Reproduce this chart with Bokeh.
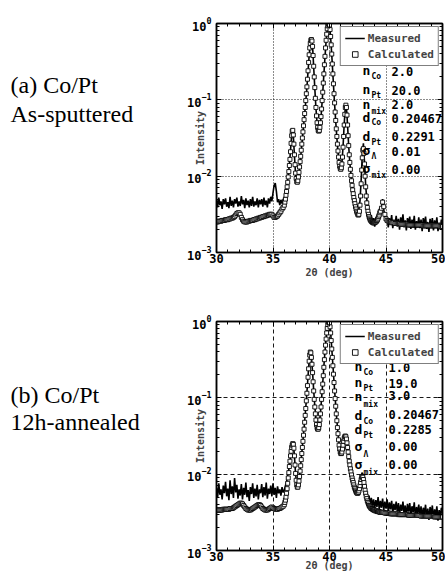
import numpy as np
from bokeh.plotting import figure
from bokeh.layouts import column, row
from bokeh.models import (Range1d, LogAxis, LinearAxis, Label, Legend, LegendItem,
                          LogTicker, SingleIntervalTicker, CustomJSTickFormatter)
from bokeh.embed import file_html
from bokeh.resources import INLINE

# ---------------- data (log10 of intensity) ----------------
# 2-theta sampling grids (deg)
x_calc_lo = [round(30.0 + 0.1 * i, 2) for i in range(60)]     # 30.0 .. 35.9
x_calc_mid = [round(36.0 + 0.05 * i, 2) for i in range(171)]  # 36.00 .. 44.50
x_calc_hi = [round(44.6 + 0.1 * i, 2) for i in range(55)]     # 44.6 .. 50.0
x_meas = [round(30.0 + 0.1 * i, 2) for i in range(201)]       # 30.0 .. 50.0

# (a) As-sputtered, calculated
calc_a_lo = [-2.60, -2.60, -2.59, -2.59, -2.59, -2.58, -2.58, -2.58, -2.57, -2.57,
             -2.57, -2.56, -2.56, -2.55, -2.55, -2.54, -2.53, -2.51, -2.49, -2.48,
             -2.48, -2.50, -2.54, -2.57, -2.59, -2.60, -2.60, -2.60, -2.59, -2.59,
             -2.58, -2.58, -2.58, -2.57, -2.57, -2.56, -2.56, -2.55, -2.55, -2.54,
             -2.54, -2.53, -2.53, -2.52, -2.52, -2.51, -2.51, -2.50, -2.50, -2.50,
             -2.52, -2.54, -2.54, -2.53, -2.52, -2.50, -2.48, -2.46, -2.43, -2.41]
calc_a_mid = [-2.38, -2.34, -2.30, -2.25, -2.20, -2.14, -2.08, -2.01, -1.94, -1.86,
              -1.78, -1.68, -1.57, -1.47, -1.41, -1.40, -1.46, -1.58, -1.72, -1.85,
              -1.96, -2.03, -2.07, -2.08, -2.06, -2.01, -1.95, -1.88, -1.81, -1.74,
              -1.66, -1.58, -1.50, -1.42, -1.34, -1.26, -1.18, -1.10, -1.01, -0.92,
              -0.83, -0.73, -0.62, -0.51, -0.41, -0.32, -0.26, -0.22, -0.21, -0.23,
              -0.30, -0.42, -0.56, -0.70, -0.84, -0.98, -1.10, -1.21, -1.30, -1.36,
              -1.40, -1.41, -1.40, -1.36, -1.30, -1.22, -1.12, -1.01, -0.90, -0.78,
              -0.66, -0.54, -0.43, -0.32, -0.22, -0.14, -0.07, -0.03, -0.01, 0.00,
              -0.02, -0.08, -0.17, -0.28, -0.40, -0.53, -0.66, -0.79, -0.92, -1.04,
              -1.16, -1.27, -1.38, -1.48, -1.58, -1.67, -1.75, -1.82, -1.87, -1.90,
              -1.91, -1.89, -1.84, -1.75, -1.62, -1.48, -1.33, -1.19, -1.10, -1.07,
              -1.10, -1.20, -1.33, -1.47, -1.60, -1.72, -1.82, -1.91, -1.99, -2.06,
              -2.12, -2.18, -2.23, -2.28, -2.32, -2.36, -2.40, -2.43, -2.46, -2.48,
              -2.50, -2.51, -2.50, -2.46, -2.38, -2.26, -2.10, -1.92, -1.76, -1.66,
              -1.64, -1.70, -1.84, -2.00, -2.14, -2.26, -2.35, -2.41, -2.46, -2.50,
              -2.53, -2.55, -2.57, -2.58, -2.59, -2.60, -2.60, -2.61, -2.61, -2.61,
              -2.61, -2.60, -2.60, -2.59, -2.58, -2.57, -2.55, -2.53, -2.51, -2.48,
              -2.46]
calc_a_hi = [-2.42, -2.34, -2.40, -2.50, -2.56, -2.58, -2.59, -2.60, -2.60, -2.61,
             -2.61, -2.61, -2.62, -2.62, -2.62, -2.62, -2.62, -2.63, -2.63, -2.63,
             -2.63, -2.63, -2.63, -2.63, -2.64, -2.64, -2.64, -2.64, -2.64, -2.64,
             -2.64, -2.64, -2.64, -2.64, -2.64, -2.64, -2.64, -2.65, -2.65, -2.65,
             -2.65, -2.65, -2.65, -2.65, -2.65, -2.65, -2.65, -2.65, -2.65, -2.65,
             -2.65, -2.65, -2.66, -2.66, -2.66]
# (a) As-sputtered, measured
meas_a = [-2.31, -2.41, -2.28, -2.38, -2.33, -2.43, -2.30, -2.37, -2.29, -2.40,
          -2.34, -2.42, -2.27, -2.39, -2.32, -2.41, -2.30, -2.36, -2.28, -2.40,
          -2.33, -2.39, -2.26, -2.37, -2.31, -2.42, -2.29, -2.38, -2.32, -2.41,
          -2.30, -2.39, -2.27, -2.40, -2.33, -2.38, -2.29, -2.41, -2.31, -2.37,
          -2.30, -2.40, -2.28, -2.38, -2.32, -2.41, -2.29, -2.36, -2.27, -2.33,
          -2.22, -2.12, -2.09, -2.20, -2.34, -2.30, -2.38, -2.31, -2.36, -2.30,
          -2.30, -2.24, -2.15, -2.05, -1.92, -1.76, -1.56, -1.40, -1.47, -1.74,
          -1.98, -2.09, -2.08, -1.96, -1.82, -1.67, -1.51, -1.35, -1.19, -1.02,
          -0.84, -0.63, -0.42, -0.27, -0.20, -0.29, -0.57, -0.85, -1.11, -1.31,
          -1.41, -1.41, -1.31, -1.13, -0.91, -0.67, -0.44, -0.23, -0.08, -0.02,
          -0.01, -0.18, -0.41, -0.67, -0.93, -1.17, -1.39, -1.59, -1.76, -1.88,
          -1.92, -1.83, -1.61, -1.32, -1.09, -1.09, -1.34, -1.61, -1.83, -1.97,
          -2.10, -2.25, -2.28, -2.43, -2.40, -2.53, -2.44, -2.32, -2.06, -1.72,
          -1.57, -1.82, -2.12, -2.30, -2.45, -2.50, -2.58, -2.51, -2.64, -2.55,
          -2.66, -2.54, -2.62, -2.50, -2.58, -2.46, -2.42, -2.30, -2.44, -2.52,
          -2.60, -2.53, -2.67, -2.55, -2.63, -2.51, -2.68, -2.57, -2.64, -2.52,
          -2.66, -2.56, -2.70, -2.54, -2.62, -2.50, -2.67, -2.58, -2.71, -2.55,
          -2.63, -2.53, -2.69, -2.57, -2.65, -2.52, -2.70, -2.59, -2.66, -2.54,
          -2.68, -2.57, -2.72, -2.55, -2.64, -2.53, -2.69, -2.60, -2.73, -2.56,
          -2.66, -2.55, -2.71, -2.58, -2.67, -2.54, -2.72, -2.61, -2.68, -2.57,
          -2.65]

# (b) 12h-annealed, calculated
calc_b_lo = [-2.47, -2.47, -2.47, -2.47, -2.47, -2.47, -2.46, -2.46, -2.46, -2.46,
             -2.46, -2.46, -2.45, -2.45, -2.45, -2.44, -2.43, -2.42, -2.41, -2.40,
             -2.39, -2.38, -2.38, -2.39, -2.41, -2.43, -2.45, -2.46, -2.47, -2.47,
             -2.47, -2.46, -2.45, -2.44, -2.43, -2.42, -2.41, -2.40, -2.40, -2.41,
             -2.43, -2.45, -2.46, -2.47, -2.47, -2.47, -2.46, -2.45, -2.44, -2.43,
             -2.44, -2.45, -2.46, -2.46, -2.46, -2.45, -2.45, -2.44, -2.43, -2.42]
calc_b_mid = [-2.40, -2.37, -2.34, -2.30, -2.25, -2.19, -2.12, -2.05, -1.98, -1.90,
              -1.83, -1.76, -1.70, -1.65, -1.62, -1.60, -1.61, -1.66, -1.76, -1.88,
              -1.99, -2.08, -2.14, -2.17, -2.17, -2.14, -2.09, -2.03, -1.96, -1.89,
              -1.81, -1.73, -1.65, -1.57, -1.49, -1.41, -1.32, -1.23, -1.14, -1.04,
              -0.94, -0.84, -0.73, -0.62, -0.52, -0.44, -0.40, -0.41, -0.47, -0.56,
              -0.67, -0.79, -0.91, -1.02, -1.12, -1.21, -1.29, -1.35, -1.39, -1.41,
              -1.41, -1.39, -1.35, -1.29, -1.21, -1.12, -1.02, -0.92, -0.82, -0.71,
              -0.60, -0.50, -0.40, -0.31, -0.23, -0.15, -0.09, -0.04, -0.01, 0.00,
              -0.02, -0.07, -0.15, -0.25, -0.36, -0.47, -0.58, -0.69, -0.80, -0.91,
              -1.01, -1.11, -1.21, -1.30, -1.39, -1.47, -1.55, -1.62, -1.67, -1.71,
              -1.73, -1.73, -1.71, -1.67, -1.62, -1.57, -1.53, -1.51, -1.50, -1.51,
              -1.54, -1.59, -1.65, -1.71, -1.77, -1.83, -1.88, -1.93, -1.97, -2.01,
              -2.05, -2.08, -2.11, -2.14, -2.17, -2.19, -2.21, -2.23, -2.24, -2.25,
              -2.25, -2.24, -2.22, -2.19, -2.15, -2.11, -2.07, -2.04, -2.03, -2.04,
              -2.07, -2.11, -2.16, -2.21, -2.25, -2.29, -2.32, -2.35, -2.37, -2.39,
              -2.41, -2.42, -2.43, -2.44, -2.45, -2.45, -2.46, -2.46, -2.47, -2.47,
              -2.47, -2.48, -2.48, -2.48, -2.48, -2.49, -2.49, -2.49, -2.49, -2.50,
              -2.50]
calc_b_hi = [-2.50, -2.50, -2.50, -2.51, -2.51, -2.51, -2.51, -2.51, -2.52, -2.52,
             -2.52, -2.52, -2.52, -2.52, -2.52, -2.53, -2.53, -2.53, -2.53, -2.53,
             -2.53, -2.53, -2.53, -2.53, -2.54, -2.54, -2.54, -2.54, -2.54, -2.54,
             -2.54, -2.54, -2.54, -2.54, -2.54, -2.55, -2.55, -2.55, -2.55, -2.55,
             -2.55, -2.55, -2.55, -2.55, -2.55, -2.55, -2.55, -2.56, -2.56, -2.56,
             -2.56, -2.56, -2.56, -2.56, -2.56]
# (b) 12h-annealed, measured
meas_b = [-2.18, -2.30, -2.12, -2.27, -2.20, -2.33, -2.15, -2.25, -2.10, -2.29,
          -2.19, -2.34, -2.08, -2.26, -2.16, -2.31, -2.05, -2.24, -2.14, -2.32,
          -2.20, -2.28, -2.13, -2.33, -2.18, -2.27, -2.11, -2.30, -2.21, -2.35,
          -2.17, -2.26, -2.12, -2.31, -2.19, -2.29, -2.14, -2.33, -2.20, -2.25,
          -2.13, -2.30, -2.17, -2.28, -2.11, -2.32, -2.19, -2.26, -2.15, -2.29,
          -2.12, -2.27, -2.18, -2.31, -2.16, -2.25, -2.20, -2.28, -2.17, -2.24,
          -2.21, -2.15, -2.10, -2.02, -1.94, -1.83, -1.73, -1.64, -1.58, -1.77,
          -2.00, -2.13, -2.16, -2.08, -1.95, -1.80, -1.64, -1.48, -1.31, -1.13,
          -0.93, -0.72, -0.51, -0.39, -0.46, -0.66, -0.90, -1.11, -1.28, -1.38,
          -1.40, -1.34, -1.20, -1.01, -0.81, -0.59, -0.39, -0.22, -0.08, -0.01,
          -0.02, -0.14, -0.35, -0.57, -0.79, -1.00, -1.20, -1.38, -1.54, -1.66,
          -1.72, -1.70, -1.61, -1.52, -1.49, -1.53, -1.64, -1.76, -1.87, -1.96,
          -2.02, -2.10, -2.12, -2.20, -2.16, -2.24, -2.17, -2.12, -2.02, -1.98,
          -2.03, -2.12, -2.20, -2.26, -2.33, -2.28, -2.40, -2.31, -2.42, -2.33,
          -2.45, -2.34, -2.43, -2.30, -2.46, -2.35, -2.44, -2.32, -2.47, -2.36,
          -2.45, -2.33, -2.49, -2.37, -2.46, -2.35, -2.51, -2.39, -2.47, -2.36,
          -2.50, -2.38, -2.53, -2.40, -2.48, -2.36, -2.52, -2.41, -2.55, -2.39,
          -2.49, -2.38, -2.54, -2.42, -2.50, -2.37, -2.56, -2.43, -2.51, -2.40,
          -2.55, -2.42, -2.58, -2.44, -2.52, -2.40, -2.57, -2.45, -2.60, -2.43,
          -2.53, -2.41, -2.59, -2.46, -2.55, -2.42, -2.61, -2.47, -2.56, -2.44,
          -2.52]

titles_a = ["(a) Co/Pt", "As-sputtered"]
titles_b = ["(b) Co/Pt", "12h-annealed"]
param_names = [("n", "Co"), ("n", "Pt"), ("n", "mix"), ("d", "Co"), ("d", "Pt"),
               ("\u03c3", "\u039b"), ("\u03c3", "mix")]
params_a = ["2.0", "20.0", "2.0", "0.20467", "0.2291", "0.01", "0.00"]
params_b = ["1.0", "19.0", "3.0", "0.20467", "0.2285", "0.00", "0.00"]
legend_labels = ["Measured", "Calculated"]
x_ticks_interval = 5

# ---------------- drawing ----------------
MONO = "DejaVu Sans Mono"
SERIF = "Liberation Serif"
TW = 171          # width of the title strip
PW = 274          # width of the plot figure
FL = 216          # page x of the frame's left edge (TW + 45)


def style_axis(ax, labels=True):
    ax.axis_line_width = 1.5
    ax.axis_line_color = "black"
    ax.major_tick_in = 5
    ax.major_tick_out = 0
    ax.minor_tick_in = 3
    ax.minor_tick_out = 0
    ax.major_tick_line_color = "black"
    ax.minor_tick_line_color = "black"
    ax.major_label_text_font = MONO
    ax.major_label_text_font_style = "bold"
    ax.major_label_text_color = "black"
    ax.major_label_text_font_size = "12px"
    if not labels:
        ax.formatter = CustomJSTickFormatter(code="return ''")
        ax.major_label_standoff = 0


def txt(p, s, x, y, size, font, style="bold", baseline="middle"):
    p.add_layout(Label(x=x, y=y, x_units="screen", y_units="screen", text=s,
                       text_font=font, text_font_size=size, text_font_style=style,
                       text_color="black", text_baseline=baseline, text_align="left"))


def title_strip(height, FB, titles, ys):
    t = figure(width=TW, height=height, x_range=Range1d(0, 1), y_range=Range1d(0, 1),
               x_axis_type=None, y_axis_type=None, output_backend="svg", toolbar_location=None,
               min_border=0, outline_line_color=None,
               background_fill_color="white", border_fill_color="white")
    for s, yb in zip(titles, ys):
        # the strip's frame is aligned with the neighbouring plot frame
        txt(t, s, 10, FB - yb, "24px", SERIF, style="normal", baseline="alphabetic")
    return t


def make_panel(height, top, bottom, page_top, meas, calc_lo, calc_mid, calc_hi,
               dash, xlab_standoff, params, layout):
    p = figure(width=PW, height=height, x_range=Range1d(30, 50), y_range=Range1d(1e-3, 1),
               y_axis_type="log", output_backend="svg", toolbar_location=None,
               min_border_left=45, min_border_right=3, min_border_top=top, min_border_bottom=bottom,
               background_fill_color="white", border_fill_color="white",
               outline_line_color="black", outline_line_width=1.5)
    xt = SingleIntervalTicker(interval=x_ticks_interval, num_minor_ticks=5)
    yt = LogTicker(mantissas=[1], num_minor_ticks=10)
    p.xaxis.ticker = xt
    p.yaxis.ticker = yt
    p.xgrid.ticker = xt
    p.ygrid.ticker = yt
    for g in (p.xgrid, p.ygrid):
        g.grid_line_color = "black"
        g.grid_line_dash = dash
        g.grid_line_width = 1
        g.grid_line_alpha = 0.9
    style_axis(p.xaxis[0])
    style_axis(p.yaxis[0])
    p.xaxis.major_label_standoff = 1
    p.yaxis.major_label_standoff = 5
    p.xaxis.axis_label = "2\u03b8 (deg)"
    p.xaxis.axis_label_text_font = MONO
    p.xaxis.axis_label_text_font_style = "bold"
    p.xaxis.axis_label_text_font_size = "10px"
    p.xaxis.axis_label_standoff = xlab_standoff
    p.yaxis.axis_label = "Intensity"
    p.yaxis.axis_label_text_font = MONO
    p.yaxis.axis_label_text_font_style = "bold"
    p.yaxis.axis_label_text_font_size = "10px"
    p.yaxis.axis_label_standoff = -22

    ra = LogAxis(ticker=yt)
    style_axis(ra, labels=False)
    p.add_layout(ra, "right")
    ta = LinearAxis(ticker=xt)
    style_axis(ta, labels=False)
    p.add_layout(ta, "above")

    x_calc = x_calc_lo + x_calc_mid + x_calc_hi
    y_calc = 10 ** np.array(calc_lo + calc_mid + calc_hi)
    lr = p.line(x_meas, 10 ** np.array(meas), line_color="black", line_width=1.6)
    sr = p.scatter(x_calc, y_calc, marker="square", size=4, fill_color="white",
                   line_color="black", line_width=0.9)

    leg = Legend(items=[LegendItem(label=legend_labels[0], renderers=[lr]),
                        LegendItem(label=legend_labels[1], renderers=[sr])],
                 location="top_right", border_line_color="black", border_line_width=1.5,
                 background_fill_color="white", background_fill_alpha=1.0,
                 label_text_font=MONO, label_text_font_style="bold",
                 label_text_font_size="11px", glyph_width=20, glyph_height=14,
                 label_height=14, label_standoff=3, padding=4, spacing=2, margin=3)
    p.add_layout(leg, "center")

    FB = page_top + height - bottom
    for (main, sub), val, ym, ys, yv in zip(param_names, params, layout["ym"], layout["ys"], layout["yv"]):
        txt(p, main, layout["xm"] - FL, FB - ym, "13px", MONO)
        txt(p, sub, layout["xs"] - FL, FB - ys, "8px", MONO)
        txt(p, val, layout["xv"] - FL, FB - yv, "12px", MONO)
    return p


lay_a = dict(xm=362, xs=371, xv=391,
             ym=[70, 89, 104, 117, 136, 150, 168],
             ys=[76, 95, 111, 122, 142, 156, 175],
             yv=[71, 90, 104, 118, 136, 151, 169])
lay_b = dict(xm=354, xs=363, xv=388,
             ym=[366, 382, 396, 415, 429, 446, 464],
             ys=[372, 388, 404, 421, 435, 454, 472],
             yv=[367, 383, 395, 414, 429, 446, 464])

HA, HB = 290, 283
BA, BB = 38, 23
ta_fig = title_strip(HA, HA - BA, titles_a, [84, 113])
pa = make_panel(HA, 23, BA, 0, meas_a, calc_a_lo, calc_a_mid, calc_a_hi,
                "1 2", 1, params_a, lay_a)
tb_fig = title_strip(HB, HA + HB - BB, titles_b, [394, 421])
pb = make_panel(HB, 31, BB, HA, meas_b, calc_b_lo, calc_b_mid, calc_b_hi,
                "4 3", -4, params_b, lay_b)

page = column(row(ta_fig, pa, spacing=0), row(tb_fig, pb, spacing=0), spacing=0)
open("out.html", "w").write(file_html(page, INLINE))
